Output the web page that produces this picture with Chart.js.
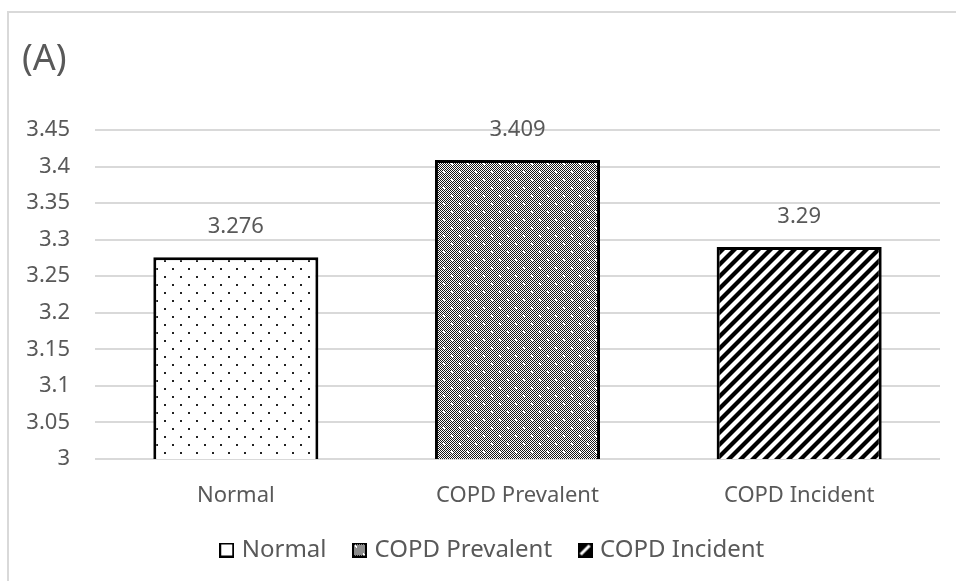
<!DOCTYPE html>
<html>
<head>
<meta charset="utf-8">
<script src="https://cdn.jsdelivr.net/npm/chart.js@4"></script>
<style>
  html, body { margin: 0; padding: 0; background: #fff; overflow: hidden; }
  #frame { position: absolute; left: 7px; top: 11px; width: 1000px; height: 1000px;
           border-left: 2px solid #d9d9d9; border-top: 2px solid #d9d9d9; }
  #c { position: absolute; left: 0; top: 0; }
</style>
</head>
<body>
<div id="frame"></div>
<canvas id="c" width="956" height="581"></canvas>
<script>
// ===== DATA =====
const TITLE = '(A)';
const categories = ['Normal', 'COPD Prevalent', 'COPD Incident'];
const values = [3.276, 3.409, 3.29];
const yTicks = [3, 3.05, 3.1, 3.15, 3.2, 3.25, 3.3, 3.35, 3.4, 3.45];

const TEXT = '#595959';
const GRID = '#d9d9d9';
const FONT = "'Noto Sans', 'DejaVu Sans', sans-serif";

// ===== PATTERNS =====
function tile(w, h, draw) {
  const cv = document.createElement('canvas');
  cv.width = w; cv.height = h;
  draw(cv.getContext('2d'), w, h);
  return cv;
}

// sparse staggered dots
const dotTile = tile(16, 16, (g) => {
  g.fillStyle = '#fff'; g.fillRect(0, 0, 16, 16);
  g.fillStyle = '#222';
  g.fillRect(4, 4, 2, 2);
  g.fillRect(12, 12, 2, 2);
});

// dense grey checker with white dots
const denseTile = tile(16, 16, (g) => {
  g.fillStyle = '#fff'; g.fillRect(0, 0, 16, 16);
  g.fillStyle = '#1a1a1a';
  for (let y = 0; y < 16; y++)
    for (let x = 0; x < 16; x++)
      if ((x + y) % 2 === 0) g.fillRect(x, y, 1, 1);
  g.fillStyle = '#fff';
  g.fillRect(3, 3, 2, 2);
  g.fillRect(11, 11, 2, 2);
});

// diagonal "/" hatch
const hatchTile = tile(12, 12, (g) => {
  g.fillStyle = '#fff'; g.fillRect(0, 0, 12, 12);
  g.strokeStyle = '#000'; g.lineWidth = 4.2;
  [-12, 0, 12].forEach(o => {
    g.beginPath(); g.moveTo(o - 2, 14); g.lineTo(o + 14, -2); g.stroke();
  });
});

const ctx = document.getElementById('c').getContext('2d');
const fills = [dotTile, denseTile, hatchTile].map(t => ctx.createPattern(t, 'repeat'));

// legend icons
const icons = [
  tile(15, 15, (g) => {
    g.fillStyle = '#fff'; g.fillRect(0, 0, 15, 15);
    g.strokeStyle = '#000'; g.lineWidth = 2; g.strokeRect(1, 1, 13, 13);
  }),
  tile(15, 15, (g) => {
    g.fillStyle = g.createPattern(denseTile, 'repeat'); g.fillRect(0, 0, 15, 15);
    g.strokeStyle = '#000'; g.lineWidth = 2; g.strokeRect(1, 1, 13, 13);
  }),
  tile(15, 15, (g) => {
    g.fillStyle = '#000'; g.fillRect(0, 0, 15, 15);
    g.strokeStyle = '#fff'; g.lineWidth = 3;
    g.beginPath(); g.moveTo(3, 12); g.lineTo(12, 3); g.stroke();
  })
];

// ===== TEXT PLUGINS =====
const valueLabels = {
  id: 'valueLabels',
  afterDatasetsDraw(chart) {
    const c = chart.ctx;
    const meta = chart.getDatasetMeta(0);
    c.save();
    c.font = `22px ${FONT}`;
    c.fillStyle = TEXT;
    c.textAlign = 'center';
    c.textBaseline = 'middle';
    meta.data.forEach((bar, i) => {
      c.fillText(String(values[i]), bar.x, bar.y - 30);
    });
    c.restore();
  }
};

// panel letter in the top-left corner, legend nudged right like the original
const panelTitle = {
  id: 'panelTitle',
  afterLayout(chart) {
    chart.legend.left += 14;
    chart.legend.right += 14;
  },
  afterDraw(chart) {
    const c = chart.ctx;
    c.save();
    c.font = `36px ${FONT}`;
    c.fillStyle = TEXT;
    c.textAlign = 'left';
    c.textBaseline = 'middle';
    c.fillText(TITLE, 22, 60);
    c.restore();
  }
};

// ===== CHART =====
new Chart(ctx, {
  type: 'bar',
  data: {
    labels: categories,
    datasets: [{
      label: 'value',
      data: values,
      backgroundColor: fills,
      borderColor: '#000',
      borderWidth: 3,
      borderSkipped: false,
      categoryPercentage: 1,
      barPercentage: 0.586
    }]
  },
  options: {
    responsive: false,
    animation: false,
    devicePixelRatio: 1,
    layout: { padding: { left: 20, right: 16, top: 130, bottom: 9 } },
    plugins: {
      tooltip: { enabled: false },
      title: { display: false },
      legend: {
        position: 'bottom',
        onClick: null,
        labels: {
          usePointStyle: true,
          pointStyleWidth: 6,
          padding: 30,
          color: TEXT,
          font: { family: FONT, size: 24 },
          generateLabels: () => categories.map((t, i) => ({
            text: t, pointStyle: icons[i], fillStyle: '#fff', strokeStyle: '#000',
            lineWidth: 0, fontColor: TEXT, hidden: false, index: i, datasetIndex: 0
          }))
        }
      }
    },
    scales: {
      x: {
        grid: { display: false, drawTicks: false },
        border: { display: false },
        ticks: { color: TEXT, padding: 24, font: { family: FONT, size: 22 } },
        afterFit: (s) => { s.height = 49; }
      },
      y: {
        min: 3,
        max: 3.45,
        afterBuildTicks: (s) => { s.ticks = yTicks.map(v => ({ value: v })); },
        grid: { color: GRID, lineWidth: 2, drawTicks: false },
        border: { display: false },
        ticks: {
          color: TEXT, padding: 25, font: { family: FONT, size: 22 },
          callback: (v) => String(v)
        },
        afterFit: (s) => { s.width = 75; }
      }
    }
  },
  plugins: [valueLabels, panelTitle]
});
</script>
</body>
</html>
